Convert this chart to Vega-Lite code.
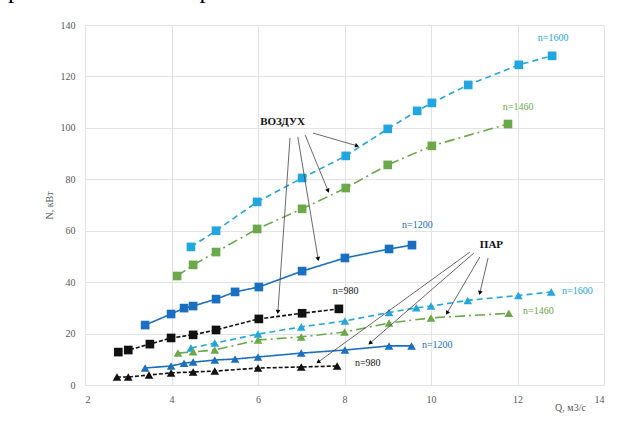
{
 "$schema": "https://vega.github.io/schema/vega-lite/v6.json",
 "width": 519, "height": 360,
 "autosize": {"type": "none"},
 "padding": {"left": 85, "top": 25, "right": 26, "bottom": 45},
 "background": "white",
 "title": {"text": "рами показано на рис. 1.", "orient": "top", "anchor": "start", "frame": "group", "font": "Liberation Serif", "fontSize": 25, "fontWeight": "normal", "color": "#000000", "baseline": "alphabetic", "offset": 0, "dy": 3, "dx": -77},
 "config": {
  "view": {"stroke": null},
  "axis": {"labelFont": "Liberation Serif", "labelFontSize": 10, "labelColor": "#595959", "titleFont": "Liberation Serif", "titleFontSize": 10, "titleFontWeight": "normal", "titleColor": "#595959", "gridColor": "#e3e3e3", "gridWidth": 1, "ticks": false, "domain": false}
 },
 "datasets": {
  "series": [
   {"m":"air","n":"1600","Q":4.45,"N":53.7},{"m":"air","n":"1600","Q":5.03,"N":60.0},{"m":"air","n":"1600","Q":5.98,"N":71.2},{"m":"air","n":"1600","Q":7.02,"N":80.5},{"m":"air","n":"1600","Q":8.03,"N":89.1},{"m":"air","n":"1600","Q":9.0,"N":99.6},{"m":"air","n":"1600","Q":9.68,"N":106.6},{"m":"air","n":"1600","Q":10.02,"N":109.7},{"m":"air","n":"1600","Q":10.86,"N":116.7},{"m":"air","n":"1600","Q":12.03,"N":124.5},{"m":"air","n":"1600","Q":12.8,"N":128.0},
   {"m":"air","n":"1460","Q":4.13,"N":42.4},{"m":"air","n":"1460","Q":4.5,"N":46.7},{"m":"air","n":"1460","Q":5.03,"N":51.7},{"m":"air","n":"1460","Q":5.98,"N":60.7},{"m":"air","n":"1460","Q":7.02,"N":68.5},{"m":"air","n":"1460","Q":8.03,"N":76.6},{"m":"air","n":"1460","Q":9.0,"N":85.6},{"m":"air","n":"1460","Q":10.02,"N":93.0},{"m":"air","n":"1460","Q":11.78,"N":101.5},
   {"m":"air","n":"1200","Q":3.39,"N":23.3},{"m":"air","n":"1200","Q":3.99,"N":27.6},{"m":"air","n":"1200","Q":4.29,"N":29.9},{"m":"air","n":"1200","Q":4.5,"N":30.7},{"m":"air","n":"1200","Q":5.03,"N":33.4},{"m":"air","n":"1200","Q":5.47,"N":36.2},{"m":"air","n":"1200","Q":6.02,"N":38.1},{"m":"air","n":"1200","Q":7.02,"N":44.3},{"m":"air","n":"1200","Q":8.01,"N":49.4},{"m":"air","n":"1200","Q":9.03,"N":52.9},{"m":"air","n":"1200","Q":9.56,"N":54.4},
   {"m":"air","n":"980","Q":2.77,"N":12.8},{"m":"air","n":"980","Q":3.0,"N":13.6},{"m":"air","n":"980","Q":3.5,"N":15.9},{"m":"air","n":"980","Q":3.99,"N":18.3},{"m":"air","n":"980","Q":4.5,"N":19.5},{"m":"air","n":"980","Q":5.03,"N":21.4},{"m":"air","n":"980","Q":6.02,"N":25.7},{"m":"air","n":"980","Q":7.02,"N":27.9},{"m":"air","n":"980","Q":7.87,"N":29.6},
   {"m":"steam","n":"1600","Q":4.45,"N":14.4},{"m":"steam","n":"1600","Q":5.0,"N":16.3},{"m":"steam","n":"1600","Q":6.0,"N":19.8},{"m":"steam","n":"1600","Q":7.0,"N":22.6},{"m":"steam","n":"1600","Q":8.01,"N":24.9},{"m":"steam","n":"1600","Q":9.03,"N":28.2},{"m":"steam","n":"1600","Q":9.66,"N":30.0},{"m":"steam","n":"1600","Q":10.0,"N":30.7},{"m":"steam","n":"1600","Q":10.85,"N":32.9},{"m":"steam","n":"1600","Q":12.02,"N":34.8},{"m":"steam","n":"1600","Q":12.78,"N":36.2},
   {"m":"steam","n":"1460","Q":4.15,"N":12.4},{"m":"steam","n":"1460","Q":4.5,"N":12.9},{"m":"steam","n":"1460","Q":5.0,"N":13.6},{"m":"steam","n":"1460","Q":6.0,"N":17.5},{"m":"steam","n":"1460","Q":7.0,"N":18.7},{"m":"steam","n":"1460","Q":8.0,"N":20.6},{"m":"steam","n":"1460","Q":9.03,"N":24.1},{"m":"steam","n":"1460","Q":10.0,"N":26.1},{"m":"steam","n":"1460","Q":11.8,"N":27.9},
   {"m":"steam","n":"1200","Q":3.39,"N":6.6},{"m":"steam","n":"1200","Q":3.99,"N":7.4},{"m":"steam","n":"1200","Q":4.29,"N":8.5},{"m":"steam","n":"1200","Q":4.5,"N":8.9},{"m":"steam","n":"1200","Q":5.0,"N":9.7},{"m":"steam","n":"1200","Q":5.47,"N":10.1},{"m":"steam","n":"1200","Q":6.0,"N":10.9},{"m":"steam","n":"1200","Q":7.0,"N":12.4},{"m":"steam","n":"1200","Q":8.01,"N":13.6},{"m":"steam","n":"1200","Q":9.03,"N":15.2},{"m":"steam","n":"1200","Q":9.55,"N":15.2},
   {"m":"steam","n":"980","Q":2.74,"N":3.1},{"m":"steam","n":"980","Q":3.0,"N":3.1},{"m":"steam","n":"980","Q":3.48,"N":3.9},{"m":"steam","n":"980","Q":3.99,"N":4.7},{"m":"steam","n":"980","Q":4.5,"N":5.1},{"m":"steam","n":"980","Q":5.0,"N":5.4},{"m":"steam","n":"980","Q":6.0,"N":6.6},{"m":"steam","n":"980","Q":7.0,"N":7.0},{"m":"steam","n":"980","Q":7.83,"N":7.4}
  ],
  "arrows": [
   {"x":7.27,"y":98.0,"x2":8.29,"y2":93.0},
   {"x":7.09,"y":97.2,"x2":7.62,"y2":75.5},
   {"x":6.92,"y":96.5,"x2":7.39,"y2":49.0},
   {"x":6.74,"y":96.1,"x2":6.46,"y2":28.4},
   {"x":10.90,"y":51.7,"x2":7.39,"y2":8.9},
   {"x":10.99,"y":51.3,"x2":8.59,"y2":16.3},
   {"x":11.13,"y":49.8,"x2":10.37,"y2":28.0},
   {"x":11.32,"y":49.4,"x2":11.13,"y2":35.8}
  ],
  "labels": [
   {"t":"n=1600","n":"1600","x":12.47,"y":135.0},
   {"t":"n=1460","n":"1460","x":11.66,"y":108.1},
   {"t":"n=1200","n":"1200","x":9.33,"y":62.2},
   {"t":"n=980","n":"980","x":7.73,"y":36.6},
   {"t":"n=1600","n":"1600","x":13.03,"y":36.6},
   {"t":"n=1460","n":"1460","x":12.13,"y":28.8},
   {"t":"n=1200","n":"1200","x":9.79,"y":15.6},
   {"t":"n=980","n":"980","x":8.24,"y":8.6}
  ],
  "heads": [
   {"t":"ВОЗДУХ","x":6.05,"y":102.3},
   {"t":"ПАР","x":11.13,"y":54.5}
  ]
 },
 "layer": [
  {
   "data": {"name": "series"},
   "mark": {"type": "line", "strokeWidth": 1.6},
   "encoding": {
    "x": {"field": "Q", "type": "quantitative", "scale": {"domain": [2, 14], "nice": false, "zero": false}, "axis": {"values": [2,4,6,8,10,12,14], "title": "Q, м3/с", "grid": true, "labelPadding": 9, "titleX": 485, "titleY": 25, "titleAlign": "center", "titleBaseline": "alphabetic"}},
    "y": {"field": "N", "type": "quantitative", "scale": {"domain": [0, 140], "nice": false, "zero": true}, "axis": {"values": [0,20,40,60,80,100,120,140], "title": "N, кВт", "grid": true, "labelPadding": 10, "titlePadding": 6}},
    "color": {"field": "n", "type": "nominal", "scale": {"domain": ["1600","1460","1200","980"], "range": ["#22a6df","#6aa84a","#1b6fc1","#111111"]}, "legend": null},
    "strokeDash": {"field": "n", "type": "nominal", "scale": {"domain": ["1600","1460","1200","980"], "range": [[6,4],[10,4,2,4],[1,0],[4,2]]}, "legend": null},
    "detail": {"field": "m", "type": "nominal"}
   }
  },
  {
   "data": {"name": "series"},
   "mark": {"type": "point", "filled": true, "opacity": 1, "size": 75},
   "encoding": {
    "x": {"field": "Q", "type": "quantitative"},
    "y": {"field": "N", "type": "quantitative"},
    "color": {"field": "n", "type": "nominal", "legend": null},
    "shape": {"field": "m", "type": "nominal", "scale": {"domain": ["air","steam"], "range": ["square","triangle-up"]}, "legend": null}
   }
  },
  {
   "data": {"name": "arrows"},
   "mark": {"type": "rule", "color": "#444444", "strokeWidth": 0.8},
   "encoding": {
    "x": {"field": "x", "type": "quantitative"},
    "y": {"field": "y", "type": "quantitative"},
    "x2": {"field": "x2"},
    "y2": {"field": "y2"}
   }
  },
  {
   "data": {"name": "arrows"},
   "transform": [{"calculate": "atan2((datum.x2-datum.x)*43.25, (datum.y2-datum.y)*2.571)*180/PI", "as": "ang"}],
   "mark": {"type": "point", "shape": "triangle-up", "filled": true, "opacity": 1, "color": "#000000", "size": 22},
   "encoding": {
    "x": {"field": "x2", "type": "quantitative"},
    "y": {"field": "y2", "type": "quantitative"},
    "angle": {"field": "ang", "type": "quantitative", "scale": null}
   }
  },
  {
   "data": {"name": "labels"},
   "mark": {"type": "text", "align": "left", "baseline": "middle", "font": "Liberation Serif", "fontSize": 10},
   "encoding": {
    "x": {"field": "x", "type": "quantitative"},
    "y": {"field": "y", "type": "quantitative"},
    "text": {"field": "t"},
    "color": {"field": "n", "type": "nominal", "legend": null}
   }
  },
  {
   "data": {"name": "heads"},
   "mark": {"type": "text", "align": "left", "baseline": "middle", "font": "Liberation Serif", "fontSize": 11, "fontWeight": "bold", "color": "#111111"},
   "encoding": {
    "x": {"field": "x", "type": "quantitative"},
    "y": {"field": "y", "type": "quantitative"},
    "text": {"field": "t"}
   }
  }
 ]
}
